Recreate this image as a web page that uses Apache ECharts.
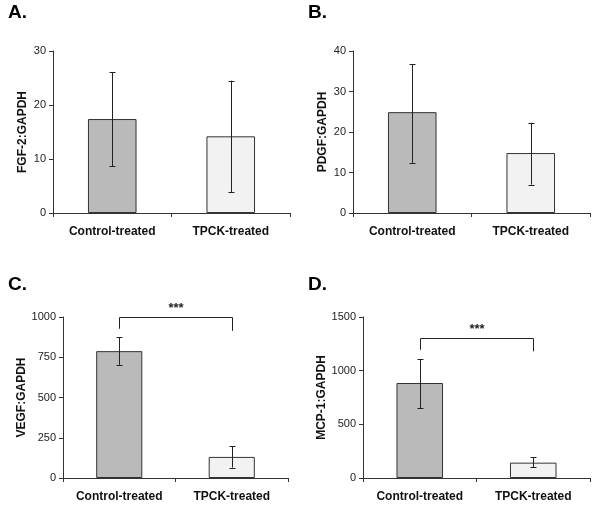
<!DOCTYPE html>
<html>
<head>
<meta charset="utf-8">
<script src="https://cdn.jsdelivr.net/npm/echarts@6/dist/echarts.min.js"></script>
<style>
html,body{margin:0;padding:0;background:#fff;}
#c{width:600px;height:510px;}
</style>
</head>
<body>
<div id="c"></div>
<script>
// ---- data ----
const categories = ['Control-treated', 'TPCK-treated'];
const panelLetters = ['A.', 'B.', 'C.', 'D.'];
const yNames = ['FGF-2:GAPDH', 'PDGF:GAPDH', 'VEGF:GAPDH', 'MCP-1:GAPDH'];
const yMax = [30, 40, 1000, 1500];
const yInterval = [10, 10, 250, 500];

const fgfMean = [17.4, 14.2];
const fgfLow = [8.7, 3.9];
const fgfHigh = [26.1, 24.5];

const pdgfMean = [24.9, 14.8];
const pdgfLow = [12.4, 7.0];
const pdgfHigh = [36.8, 22.3];

const vegfMean = [788, 131];
const vegfLow = [703, 65];
const vegfHigh = [875, 198];

const mcpMean = [885, 143];
const mcpLow = [652, 102];
const mcpHigh = [1106, 193];

// significance brackets: [top, left leg end, right leg end]
const bracketC = [1000, 927, 914];
const bracketD = [1304, 1195, 1180];
const sigLabel = '***';

const means = [fgfMean, pdgfMean, vegfMean, mcpMean];
const lows = [fgfLow, pdgfLow, vegfLow, mcpLow];
const highs = [fgfHigh, pdgfHigh, vegfHigh, mcpHigh];
const brackets = [null, null, bracketC, bracketD];

const barColors = ['#bababa', '#f2f2f2'];
const FONT = '"Liberation Sans", Arial, sans-serif';

// ---- layout ----
const grids = [
  {left: 53, top: 51, width: 237, height: 162},
  {left: 353, top: 51, width: 237, height: 162},
  {left: 63, top: 317, width: 225, height: 161},
  {left: 363, top: 317, width: 227, height: 161}
];
const titlePos = [
  {left: 8, top: 3}, {left: 308, top: 3}, {left: 8, top: 275}, {left: 308, top: 275}
];

const chart = echarts.init(document.getElementById('c'), null, {renderer: 'canvas'});

const option = {
  animation: false,
  backgroundColor: '#fff',
  title: panelLetters.map((t, i) => ({
    text: t, left: titlePos[i].left, top: titlePos[i].top, padding: 0,
    textStyle: {fontFamily: FONT, fontSize: 19, fontWeight: 'bold', color: '#000'}
  })),
  grid: grids.map(g => Object.assign({containLabel: false}, g)),
  xAxis: grids.map((g, i) => ({
    type: 'category', gridIndex: i, data: categories,
    axisLine: {lineStyle: {color: '#333', width: 1}},
    axisTick: {show: true, length: 4, lineStyle: {color: '#333'}},
    axisLabel: {interval: 0, fontFamily: FONT, fontSize: 12, fontWeight: 'bold', color: '#111', margin: 13}
  })),
  yAxis: grids.map((g, i) => ({
    type: 'value', gridIndex: i, min: 0, max: yMax[i], interval: yInterval[i],
    name: yNames[i], nameLocation: 'middle', nameGap: i < 2 ? 24 : 34, nameRotate: 90,
    nameTextStyle: {fontFamily: FONT, fontSize: 12, fontWeight: 'bold', color: '#111'},
    axisLine: {show: true, lineStyle: {color: '#333', width: 1}},
    axisTick: {show: true, length: 4, lineStyle: {color: '#333'}},
    axisLabel: {fontFamily: FONT, fontSize: 11, color: '#222', margin: 7,
                formatter: v => String(v)},
    splitLine: {show: false}
  })),
  series: []
};

means.forEach((m, i) => {
  option.series.push({
    type: 'bar', xAxisIndex: i, yAxisIndex: i, barWidth: '41%',
    data: m.map((v, k) => ({value: v, itemStyle: {color: barColors[k]}})),
    itemStyle: {borderColor: '#333', borderWidth: 1},
    z: 2
  });
  option.series.push({
    type: 'custom', xAxisIndex: i, yAxisIndex: i, z: 5,
    data: m.map((v, k) => [k, lows[i][k], highs[i][k]]),
    renderItem: function (params, api) {
      const lo = api.coord([api.value(0), api.value(1)]);
      const hi = api.coord([api.value(0), api.value(2)]);
      const x = Math.round(lo[0]) + 0.5;
      const hw = 3;
      const st = {stroke: '#222', lineWidth: 1};
      return {type: 'group', children: [
        {type: 'line', shape: {x1: x, y1: lo[1], x2: x, y2: hi[1]}, style: st},
        {type: 'line', shape: {x1: x - hw, y1: Math.round(lo[1]) + 0.5, x2: x + hw, y2: Math.round(lo[1]) + 0.5}, style: st},
        {type: 'line', shape: {x1: x - hw, y1: Math.round(hi[1]) + 0.5, x2: x + hw, y2: Math.round(hi[1]) + 0.5}, style: st}
      ]};
    }
  });
  if (brackets[i]) {
    const b = brackets[i];
    option.series.push({
      type: 'custom', xAxisIndex: i, yAxisIndex: i, z: 6, clip: false,
      data: [[0, 1, b[0], b[1], b[2]]],
      renderItem: function (params, api) {
        const pTopL = api.coord([api.value(0), api.value(2)]);
        const pTopR = api.coord([api.value(1), api.value(2)]);
        const pL = api.coord([api.value(0), api.value(3)]);
        const pR = api.coord([api.value(1), api.value(4)]);
        const xl = Math.round(pTopL[0]) + 0.5, xr = Math.round(pTopR[0]) + 0.5;
        const yt = Math.round(pTopL[1]) + 0.5;
        return {type: 'group', children: [
          {type: 'polyline', shape: {points: [[xl, pL[1]], [xl, yt], [xr, yt], [xr, pR[1]]]},
           style: {stroke: '#222', lineWidth: 1, fill: null}},
          {type: 'text', x: (xl + xr) / 2, y: yt - 3,
           style: {text: sigLabel, fontFamily: FONT, fontSize: 13, fontWeight: 'bold',
                   fill: '#222', align: 'center', verticalAlign: 'bottom'}}
        ]};
      }
    });
  }
});

chart.setOption(option);
</script>
</body>
</html>
